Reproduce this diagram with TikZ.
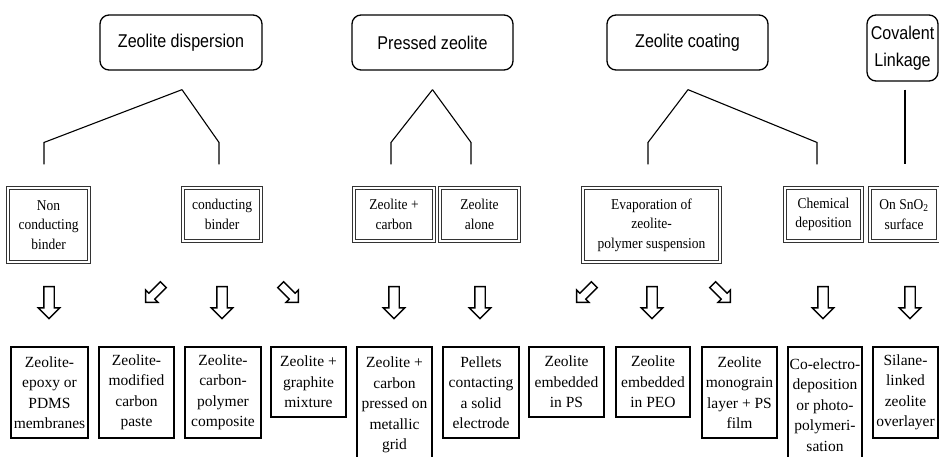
\documentclass[tikz,border=0pt]{standalone}
\usepackage{fontspec}
\setmainfont{Liberation Serif}
\newfontfamily\headfont[FakeStretch=0.87]{Liberation Sans}
\newfontfamily\midfont[FakeStretch=0.9]{Liberation Serif}
\usetikzlibrary{shapes.arrows,calc}

\begin{document}
\begin{tikzpicture}[x=1pt,y=-1pt,
    head/.style={draw,rounded corners=9pt,line width=1.3pt,align=center,inner sep=0pt,
      font=\headfont\fontsize{18.5}{27}\selectfont},
    kind/.style={draw=black!80,double,double distance=1.5pt,line width=1.1pt,align=center,inner sep=0pt,
      font=\midfont\fontsize{15}{19.5}\selectfont},
    leaf/.style={draw,line width=1.1pt,align=center,inner sep=0pt,
      font=\fontsize{15.5}{20.5}\selectfont},
    down/.style={single arrow,draw,line width=1.4pt,inner sep=4.5pt,minimum height=32pt,
      single arrow head extend=5.5pt,rotate=-90},
    slant/.style={single arrow,draw,line width=1.4pt,inner sep=3.5pt,minimum height=25pt,
      single arrow head extend=4.5pt}]
  \useasboundingbox (0,0) rectangle (939,456);
  % families
  \node[head,minimum width=162pt,minimum height=55pt] (disp) at (181,42.5) {Zeolite dispersion};
  \node[head,minimum width=161pt,minimum height=55pt] (press) at (432.5,42.5) {Pressed zeolite};
  \node[head,minimum width=161pt,minimum height=55pt] (coat) at (687.5,42.5) {Zeolite coating};
  \node[head,minimum width=71pt,minimum height=66pt] (coval) at (902.5,48) {Covalent\\Linkage};
  % ways of making
  \node[kind,minimum width=81pt,minimum height=74pt] (nonc) at (48.5,225) {Non\\conducting\\binder};
  \node[kind,minimum width=78pt,minimum height=53pt] (cond) at (222,214.5) {conducting\\binder};
  \node[kind,minimum width=80pt,minimum height=53pt] (zcarb) at (394,214.5) {Zeolite +\\carbon};
  \node[kind,minimum width=79pt,minimum height=53pt] (zalone) at (479.5,214.5) {Zeolite\\alone};
  \node[kind,minimum width=137pt,minimum height=74pt] (evap) at (651.5,225) {Evaporation of\\zeolite-\\polymer suspension};
  \node[kind,minimum width=77pt,minimum height=53pt] (chem) at (823.5,214.5) {Chemical\\deposition};
  \node[kind,minimum width=68pt,minimum height=53pt] (sno) at (904,214.5) {On SnO\textsubscript{2}\\surface};
  % electrodes
  \node[leaf,minimum width=77pt,minimum height=91pt] (epoxy) at (49.5,392.5) {Zeolite-\\epoxy or\\PDMS\\membranes};
  \node[leaf,minimum width=75pt,minimum height=91pt] (paste) at (136.5,392.5) {Zeolite-\\modified\\carbon\\paste};
  \node[leaf,minimum width=76pt,minimum height=91pt] (compo) at (223,392.5) {Zeolite-\\carbon-\\polymer\\composite};
  \node[leaf,minimum width=75pt,minimum height=70pt] (graph) at (308.5,382) {Zeolite +\\graphite\\mixture};
  \node[leaf,minimum width=75pt,minimum height=116pt] (grid) at (394.5,405) {Zeolite +\\carbon\\pressed on\\metallic\\grid};
  \node[leaf,minimum width=76pt,minimum height=91pt] (pellet) at (481,392.5) {Pellets\\contacting\\a solid\\electrode};
  \node[leaf,minimum width=75pt,minimum height=70pt] (ps) at (566.5,382) {Zeolite\\embedded\\in PS};
  \node[leaf,minimum width=74pt,minimum height=70pt] (peo) at (653,382) {Zeolite\\embedded\\in PEO};
  \node[leaf,minimum width=75pt,minimum height=91pt] (mono) at (739.5,392.5) {Zeolite\\monograin\\layer + PS\\film};
  \node[leaf,minimum width=74pt,minimum height=116pt] (coel) at (825,405) {Co-electro-\\deposition\\or photo-\\polymeri-\\sation};
  \node[leaf,minimum width=65pt,minimum height=91pt] (silane) at (905.5,392.5) {Silane-\\linked\\zeolite\\overlayer};
  % hollow arrows
  \node[down] (a1) at (49,300) {};
  \node[slant,rotate=-135] (a2) at (156,292) {};
  \node[down] (a3) at (222,300) {};
  \node[slant,rotate=-45] (a4) at (288,292) {};
  \node[down] (a5) at (394,300) {};
  \node[down] (a6) at (480,300) {};
  \node[slant,rotate=-135] (a7) at (587,292) {};
  \node[down] (a8) at (652,300) {};
  \node[slant,rotate=-45] (a9) at (720,292) {};
  \node[down] (a10) at (823,300) {};
  \node[down] (a11) at (910,300) {};
  % branches
  \begin{scope}[line width=1.1pt]
    \draw ($(disp.south)+(1,19)$) coordinate (dtop) -- ($(nonc.north)+(-4.5,-45)$) -- ($(nonc.north)+(-4.5,-23)$);
    \draw (dtop) -- ($(cond.north)+(-3,-45)$) -- ($(cond.north)+(-3,-23)$);
    \draw ($(press.south)+(0,19)$) coordinate (ptop) -- ($(zcarb.north)+(-3,-45)$) -- ($(zcarb.north)+(-3,-23)$);
    \draw (ptop) -- ($(zalone.north)+(-8.5,-45)$) -- ($(zalone.north)+(-8.5,-23)$);
    \draw ($(coat.south)+(0.5,19)$) coordinate (ctop) -- ($(evap.north)+(-3.5,-45)$) -- ($(evap.north)+(-3.5,-23)$);
    \draw (ctop) -- ($(chem.north)+(-6.5,-45)$) -- ($(chem.north)+(-6.5,-23)$);
    \draw ($(coval.south)+(2.5,8)$) -- ($(sno.north)+(1,-23)$);
  \end{scope}
\end{tikzpicture}
\end{document}
